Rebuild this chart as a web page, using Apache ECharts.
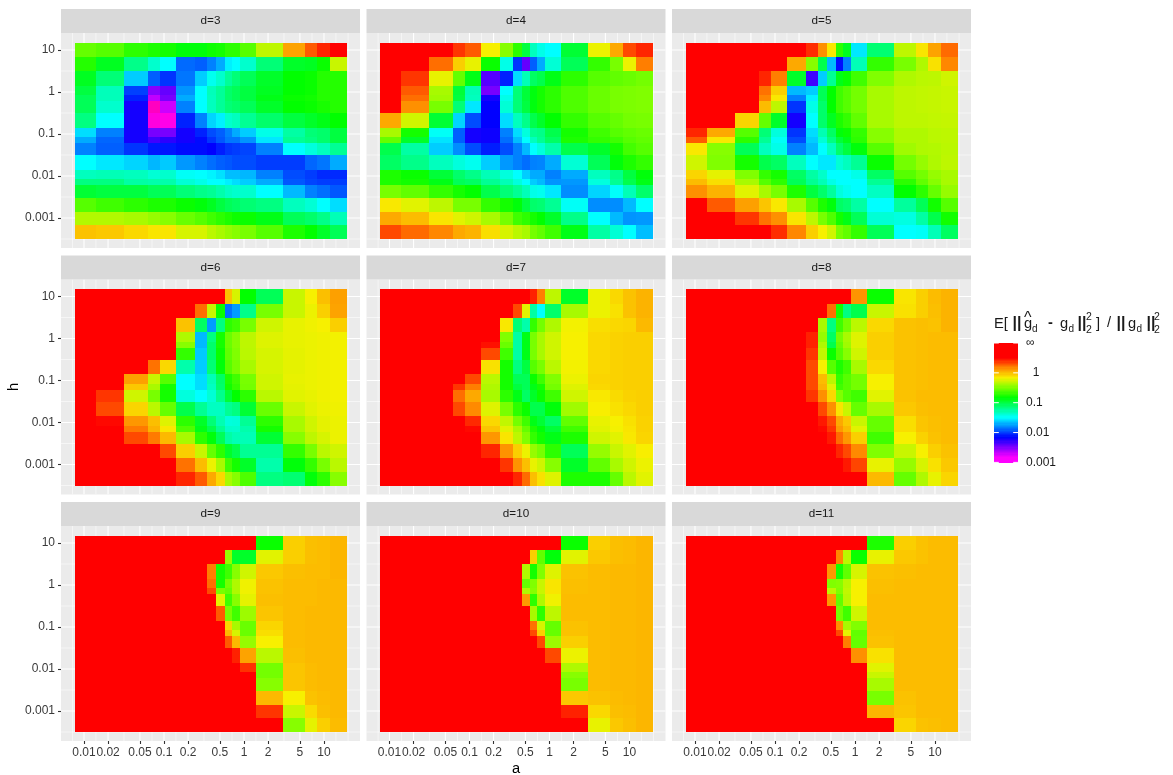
<!DOCTYPE html>
<html><head><meta charset="utf-8">
<style>html,body{margin:0;padding:0;background:#fff}#c{width:1173px;height:775px}</style>
<script src="https://cdn.jsdelivr.net/npm/echarts@6/dist/echarts.min.js"></script>
</head><body><div id="c"></div>
<script>
// Values are log10(ratio) x 100; I marks the "infinity" class.
const I = 99;
const aValues = [0.01,0.02,0.05,0.08,0.1,0.2,0.3,0.4,0.5,0.63,0.8,1,2,5,7,10,15];
const aEdges = [0.00772,0.01413,0.0316,0.0631,0.0891,0.1413,0.244,0.345,0.447,0.579,0.708,0.891,1.413,3.07,5.79,8.18,11.9,19.4];
const hValues = [10,5,2,1,0.7,0.5,0.2,0.1,0.07,0.05,0.02,0.01,0.007,0.005,0.002,0.001,0.0005];
const hEdges = [14.7,6.81,3.16,1.39,0.848,0.61,0.316,0.139,0.0848,0.061,0.0316,0.0139,0.00848,0.0061,0.003,0.00139,0.00068,0.000316];
const xTicks = [0.01,0.02,0.05,0.1,0.2,0.5,1,2,5,10];
const xMinor = [0.0072,0.0141,0.0316,0.0708,0.141,0.316,0.708,1.41,3.16,7.08,14.1,20];
const yTicks = [10,1,0.1,0.01,0.001];
const yMinor = [3.16,0.316,0.0316,0.00316,0.000316];
const legendTicks = [10,1,0.1,0.01,0.001];

const d3 = [
[-57,-61,-72,-76,-78,-86,-86,-80,-78,-72,-72,-61,-33,8,28,41,50],
[-74,-92,-119,-137,-150,-189,-192,-183,-172,-154,-150,-137,-114,-94,-92,-81,-30],
[-92,-114,-163,-192,-203,-186,-163,-146,-137,-123,-114,-106,-94,-83,-81,-74,-74],
[-100,-132,-200,-252,-243,-178,-150,-132,-123,-111,-106,-100,-92,-83,-81,-74,-74],
[-106,-132,-208,-267,-248,-172,-150,-133,-123,-111,-106,-100,-89,-81,-79,-74,-74],
[-106,-137,-222,-300,-270,-183,-150,-133,-123,-114,-111,-106,-94,-83,-81,-77,-74],
[-117,-150,-222,-292,-289,-208,-183,-161,-154,-137,-133,-122,-111,-100,-94,-89,-83],
[-159,-183,-222,-248,-248,-222,-208,-197,-192,-183,-172,-163,-144,-126,-114,-111,-100],
[-172,-190,-222,-233,-228,-222,-214,-203,-194,-186,-186,-178,-156,-122,-117,-111,-100],
[-183,-192,-203,-211,-211,-214,-214,-217,-209,-203,-201,-199,-183,-150,-141,-133,-122],
[-150,-156,-161,-169,-164,-177,-183,-188,-192,-194,-197,-197,-201,-201,-190,-186,-172],
[-133,-131,-133,-139,-137,-148,-150,-153,-158,-167,-167,-169,-183,-197,-201,-206,-206],
[-117,-117,-126,-128,-128,-139,-144,-150,-150,-154,-159,-163,-172,-194,-199,-201,-201],
[-97,-100,-100,-106,-106,-114,-119,-122,-128,-134,-137,-137,-150,-168,-183,-188,-194],
[-61,-67,-72,-76,-76,-81,-86,-92,-100,-106,-109,-113,-117,-133,-139,-150,-159],
[-36,-36,-39,-44,-48,-56,-61,-67,-72,-76,-80,-81,-89,-106,-111,-119,-131],
[-2,-4,-9,-13,-13,-26,-26,-34,-39,-44,-48,-52,-61,-76,-83,-94,-106]];
const d4 = [
[I,I,I,37,28,-17,-48,-72,-100,-133,-144,-150,-97,-20,6,32,41],
[I,I,23,-6,-21,-81,-144,-203,-243,-192,-172,-139,-106,-70,-52,-20,19],
[I,37,-21,-57,-89,-239,-208,-159,-131,-109,-103,-89,-72,-61,-58,-56,-53],
[I,28,-39,-98,-131,-248,-150,-114,-98,-87,-78,-72,-63,-56,-52,-51,-50],
[I,23,-41,-100,-133,-222,-144,-114,-98,-87,-78,-72,-63,-56,-52,-51,-50],
[I,14,-52,-114,-156,-217,-139,-114,-100,-87,-78,-72,-63,-56,-52,-51,-50],
[6,-28,-97,-161,-197,-217,-159,-133,-119,-103,-94,-83,-70,-61,-57,-53,-52],
[-39,-78,-148,-192,-222,-220,-183,-159,-141,-122,-119,-103,-78,-67,-61,-58,-56],
[-57,-94,-157,-192,-222,-220,-188,-167,-150,-133,-122,-109,-76,-70,-67,-61,-58],
[-103,-126,-163,-180,-197,-209,-197,-183,-168,-150,-141,-128,-103,-94,-78,-66,-61],
[-109,-119,-133,-141,-146,-163,-177,-183,-188,-183,-182,-172,-139,-106,-86,-76,-70],
[-76,-81,-98,-111,-119,-131,-141,-150,-163,-172,-172,-183,-172,-133,-119,-100,-86],
[-76,-79,-89,-106,-109,-122,-131,-141,-150,-163,-168,-178,-177,-141,-122,-103,-89],
[-52,-58,-70,-78,-83,-103,-114,-122,-131,-144,-146,-156,-180,-161,-149,-131,-111],
[-14,-23,-33,-52,-52,-70,-78,-86,-100,-111,-113,-122,-148,-180,-180,-168,-150],
[6,0,-13,-23,-28,-39,-53,-67,-72,-78,-83,-94,-119,-150,-168,-178,-177],
[32,24,17,6,3,-11,-26,-34,-39,-53,-58,-67,-89,-126,-139,-150,-167]];
const d5 = [
[I,I,I,I,I,I,39,14,-14,-72,-92,-156,-113,-33,-13,8,24],
[I,I,I,I,I,6,-48,-103,-168,-214,-183,-131,-70,-52,-37,-12,17],
[I,I,I,41,19,-94,-233,-163,-122,-89,-81,-67,-50,-37,-34,-33,-28],
[I,I,I,22,-6,-168,-163,-106,-83,-67,-61,-53,-39,-33,-32,-31,-30],
[I,I,I,17,-14,-183,-154,-106,-83,-67,-61,-53,-39,-33,-32,-31,-30],
[I,I,I,0,-33,-203,-144,-111,-83,-67,-61,-53,-39,-33,-32,-31,-30],
[I,I,-8,-57,-94,-222,-150,-111,-92,-76,-70,-58,-39,-33,-33,-32,-31],
[41,6,-61,-114,-141,-203,-159,-130,-109,-86,-81,-70,-48,-37,-37,-34,-33],
[28,-14,-72,-122,-148,-197,-163,-139,-117,-98,-89,-72,-48,-37,-37,-34,-33],
[-14,-48,-106,-133,-144,-183,-168,-150,-133,-111,-100,-86,-61,-41,-37,-36,-34],
[-28,-50,-78,-103,-109,-133,-150,-156,-156,-139,-133,-122,-81,-53,-44,-37,-33],
[-8,-22,-50,-70,-78,-109,-126,-136,-150,-150,-150,-144,-109,-61,-53,-44,-39],
[0,-11,-39,-61,-72,-106,-122,-131,-144,-150,-150,-150,-122,-72,-58,-48,-39],
[14,3,-23,-39,-52,-76,-100,-111,-124,-141,-146,-150,-134,-83,-72,-57,-44],
[I,28,9,-3,-14,-39,-61,-76,-86,-109,-113,-126,-150,-124,-106,-79,-61],
[I,I,37,22,14,-13,-33,-52,-63,-79,-89,-106,-139,-142,-126,-103,-79],
[I,I,I,I,39,17,-6,-17,-28,-52,-58,-70,-106,-150,-148,-131,-108]];
const d6 = [
[I,I,I,I,I,I,I,I,I,-2,-26,-83,-106,-30,-17,-1,9],
[I,I,I,I,I,I,23,-30,-81,-187,-176,-119,-52,-30,-20,-6,8],
[I,I,I,I,I,-2,-109,-176,-117,-72,-67,-52,-28,-21,-19,-17,-6],
[I,I,I,I,I,-37,-168,-117,-78,-56,-48,-33,-24,-21,-20,-19,-18],
[I,I,I,I,I,-48,-168,-111,-78,-56,-48,-33,-24,-21,-20,-19,-18],
[I,I,I,I,I,-70,-164,-111,-81,-58,-50,-34,-26,-22,-20,-19,-18],
[I,I,I,22,-9,-128,-163,-114,-86,-61,-52,-39,-26,-22,-20,-19,-18],
[I,I,9,-30,-61,-150,-159,-131,-109,-76,-67,-52,-28,-21,-20,-19,-18],
[I,I,-4,-39,-78,-150,-159,-134,-111,-79,-70,-53,-28,-22,-20,-19,-18],
[I,37,-28,-52,-78,-141,-150,-139,-120,-98,-83,-72,-34,-23,-21,-19,-18],
[I,32,-8,-34,-57,-103,-122,-134,-134,-122,-117,-97,-56,-30,-23,-20,-19],
[I,48,12,-1,-24,-72,-94,-114,-130,-141,-140,-122,-72,-39,-28,-22,-20],
[I,I,20,3,-14,-63,-89,-103,-122,-136,-137,-128,-78,-39,-28,-22,-20],
[I,I,32,20,1,-39,-72,-86,-106,-126,-131,-131,-97,-48,-33,-26,-20],
[I,I,I,I,32,-6,-30,-57,-72,-94,-103,-122,-122,-70,-52,-34,-28],
[I,I,I,I,I,22,0,-20,-39,-67,-78,-94,-128,-86,-70,-52,-34],
[I,I,I,I,I,41,28,6,-9,-39,-48,-63,-117,-113,-86,-72,-48]];
const d7 = [
[I,I,I,I,I,I,I,I,I,42,19,-33,-94,-20,-9,-2,3],
[I,I,I,I,I,I,I,32,-23,-126,-150,-111,-39,-20,-12,-2,3],
[I,I,I,I,I,I,-14,-114,-128,-70,-53,-37,-18,-11,-9,-8,1],
[I,I,I,I,I,I,-50,-126,-89,-52,-39,-28,-17,-9,-7,-6,-6],
[I,I,I,I,I,46,-56,-126,-89,-52,-39,-28,-17,-9,-7,-6,-6],
[I,I,I,I,I,32,-67,-126,-89,-52,-39,-28,-17,-9,-7,-6,-6],
[I,I,I,I,I,-12,-78,-117,-100,-61,-52,-34,-18,-9,-7,-6,-6],
[I,I,I,I,32,-34,-78,-106,-106,-81,-67,-50,-20,-8,-7,-6,-6],
[I,I,I,37,19,-37,-78,-100,-106,-89,-78,-53,-24,-9,-7,-6,-6],
[I,I,I,23,6,-39,-72,-89,-109,-94,-81,-67,-28,-14,-10,-7,-6],
[I,I,I,32,16,-24,-52,-72,-81,-103,-103,-86,-41,-16,-12,-9,-6],
[I,I,I,I,40,-9,-32,-53,-67,-89,-97,-109,-58,-21,-17,-12,-7],
[I,I,I,I,48,-3,-23,-39,-57,-76,-86,-98,-67,-23,-18,-13,-7],
[I,I,I,I,I,12,-13,-33,-50,-70,-79,-89,-76,-28,-23,-14,-8],
[I,I,I,I,I,41,13,-6,-20,-44,-52,-72,-106,-44,-30,-23,-16],
[I,I,I,I,I,I,37,13,-1,-21,-28,-48,-94,-58,-39,-28,-20],
[I,I,I,I,I,I,I,41,24,-1,-12,-24,-76,-76,-57,-34,-23]];
const d8 = [
[I,I,I,I,I,I,I,I,I,I,I,13,-81,-13,-6,0,3],
[I,I,I,I,I,I,I,I,23,-78,-117,-103,-30,-12,-6,-1,3],
[I,I,I,I,I,I,I,-39,-117,-67,-53,-34,-9,-2,-1,-2,3],
[I,I,I,I,I,I,42,-44,-109,-53,-39,-24,-6,-2,-1,0,0],
[I,I,I,I,I,I,42,-37,-103,-57,-41,-24,-6,-2,-1,0,0],
[I,I,I,I,I,I,37,-32,-81,-61,-48,-28,-6,-2,-1,0,0],
[I,I,I,I,I,I,32,-17,-61,-76,-67,-39,-9,-2,-1,0,0],
[I,I,I,I,I,I,32,0,-33,-70,-61,-53,-17,-2,-1,0,0],
[I,I,I,I,I,I,32,3,-23,-67,-61,-53,-17,-2,-1,0,0],
[I,I,I,I,I,I,37,14,-9,-50,-61,-67,-23,-2,0,0,0],
[I,I,I,I,I,I,I,32,14,-13,-30,-57,-39,-4,-1,0,0],
[I,I,I,I,I,I,I,44,32,6,-4,-30,-57,-11,-3,-1,0],
[I,I,I,I,I,I,I,48,37,11,1,-23,-57,-11,-3,-1,0],
[I,I,I,I,I,I,I,I,44,24,12,-6,-67,-17,-7,-2,0],
[I,I,I,I,I,I,I,I,I,41,32,16,-50,-30,-17,-6,-2],
[I,I,I,I,I,I,I,I,I,I,44,33,-21,-44,-26,-12,-4],
[I,I,I,I,I,I,I,I,I,I,I,I,1,-57,-37,-21,-8]];
const d9 = [
[I,I,I,I,I,I,I,I,I,I,I,I,-81,-6,-1,0,2],
[I,I,I,I,I,I,I,I,I,-44,-94,-94,-23,-6,-1,0,2],
[I,I,I,I,I,I,I,19,-78,-67,-48,-28,-4,-1,0,0,2],
[I,I,I,I,I,I,I,23,-78,-53,-37,-19,-2,0,0,1,1],
[I,I,I,I,I,I,I,32,-52,-57,-37,-19,-2,0,0,1,1],
[I,I,I,I,I,I,I,I,-22,-67,-48,-22,-1,0,0,1,1],
[I,I,I,I,I,I,I,I,28,-52,-67,-42,-3,0,1,1,1],
[I,I,I,I,I,I,I,I,I,-8,-39,-56,-8,0,1,1,1],
[I,I,I,I,I,I,I,I,I,1,-26,-56,-11,0,1,1,1],
[I,I,I,I,I,I,I,I,I,28,1,-44,-17,0,1,1,1],
[I,I,I,I,I,I,I,I,I,I,42,8,-34,-1,1,1,1],
[I,I,I,I,I,I,I,I,I,I,I,38,-53,-3,0,1,1],
[I,I,I,I,I,I,I,I,I,I,I,I,-53,-3,0,1,1],
[I,I,I,I,I,I,I,I,I,I,I,I,-48,-3,0,1,1],
[I,I,I,I,I,I,I,I,I,I,I,I,1,-17,-2,0,1],
[I,I,I,I,I,I,I,I,I,I,I,I,37,-30,-10,-1,1],
[I,I,I,I,I,I,I,I,I,I,I,I,I,-48,-22,-6,0]];
const d10 = [
[I,I,I,I,I,I,I,I,I,I,I,I,-81,-6,-1,0,2],
[I,I,I,I,I,I,I,I,I,-6,-58,-86,-23,-4,-1,0,2],
[I,I,I,I,I,I,I,I,-37,-78,-50,-24,-2,0,1,1,2],
[I,I,I,I,I,I,I,I,-57,-50,-30,-13,-1,0,1,1,2],
[I,I,I,I,I,I,I,I,-37,-48,-30,-13,-1,0,1,1,2],
[I,I,I,I,I,I,I,I,11,-72,-37,-19,0,0,1,1,2],
[I,I,I,I,I,I,I,I,I,-39,-72,-33,0,0,1,1,2],
[I,I,I,I,I,I,I,I,I,22,-26,-57,-2,0,1,1,2],
[I,I,I,I,I,I,I,I,I,32,-6,-57,-2,0,1,1,2],
[I,I,I,I,I,I,I,I,I,I,32,-42,-6,0,1,1,2],
[I,I,I,I,I,I,I,I,I,I,I,32,-20,0,1,1,2],
[I,I,I,I,I,I,I,I,I,I,I,I,-37,0,1,1,2],
[I,I,I,I,I,I,I,I,I,I,I,I,-48,0,1,1,2],
[I,I,I,I,I,I,I,I,I,I,I,I,-52,0,1,1,2],
[I,I,I,I,I,I,I,I,I,I,I,I,-4,-2,0,1,2],
[I,I,I,I,I,I,I,I,I,I,I,I,42,-9,-1,0,2],
[I,I,I,I,I,I,I,I,I,I,I,I,I,-21,-4,-1,2]];
const d11 = [
[I,I,I,I,I,I,I,I,I,I,I,I,-76,-6,-2,0,0],
[I,I,I,I,I,I,I,I,I,17,-34,-81,-21,-4,-2,0,0],
[I,I,I,I,I,I,I,I,12,-78,-58,-26,-2,-1,0,0,0],
[I,I,I,I,I,I,I,I,-50,-48,-34,-17,-1,0,0,0,0],
[I,I,I,I,I,I,I,I,-33,-50,-32,-17,-1,0,0,0,0],
[I,I,I,I,I,I,I,I,12,-58,-34,-17,0,0,0,0,0],
[I,I,I,I,I,I,I,I,I,-53,-67,-28,0,0,0,0,0],
[I,I,I,I,I,I,I,I,I,14,-39,-50,0,0,0,0,0],
[I,I,I,I,I,I,I,I,I,32,-22,-58,-1,0,0,0,0],
[I,I,I,I,I,I,I,I,I,I,19,-57,-2,0,0,0,0],
[I,I,I,I,I,I,I,I,I,I,I,14,-12,0,0,0,0],
[I,I,I,I,I,I,I,I,I,I,I,I,-23,0,0,0,0],
[I,I,I,I,I,I,I,I,I,I,I,I,-30,0,0,0,0],
[I,I,I,I,I,I,I,I,I,I,I,I,-39,0,0,0,0],
[I,I,I,I,I,I,I,I,I,I,I,I,-52,-2,0,0,0],
[I,I,I,I,I,I,I,I,I,I,I,I,2,-3,0,0,0],
[I,I,I,I,I,I,I,I,I,I,I,I,I,-8,-2,-1,0]];
const panels = [['d=3',d3],['d=4',d4],['d=5',d5],['d=6',d6],['d=7',d7],['d=8',d8],['d=9',d9],['d=10',d10],['d=11',d11]];

const FONT = 'Liberation Sans';
const lefts = [61,366.5,672], tops = [33,279.5,526], PW = 299, PH = 215;
const xMin = 0.00516, xMax = 28.2, yMin = 0.000193, yMax = 25.4;
const grids=[], xAxes=[], yAxes=[], series=[], graphics=[], tileIdx=[];
const fmt = v => String(Number(Number(v).toPrecision(3)));

function gridRender(params, api){
  const isX = api.value(0)===0, v = api.value(1), w = api.value(2);
  const a = isX ? api.coord([v,yMin]) : api.coord([xMin,v]);
  const b = isX ? api.coord([v,yMax]) : api.coord([xMax,v]);
  return {type:'line',silent:true,shape:{x1:a[0],y1:a[1],x2:b[0],y2:b[1]},style:{stroke:'#fff',lineWidth:w}};
}
function tileRender(params, api){
  const p = api.coord([api.value(0),api.value(3)]), q = api.coord([api.value(1),api.value(2)]);
  const x=Math.round(p[0]), y=Math.round(p[1]);
  return {type:'rect',silent:true,shape:{x,y,width:Math.round(q[0])-x,height:Math.round(q[1])-y},style:{fill:api.visual('color')}};
}
panels.forEach(([name,rows],i)=>{
  const col=i%3, row=Math.floor(i/3), L=lefts[col], T=tops[row];
  grids.push({left:L,top:T,width:PW,height:PH,show:true,backgroundColor:'#EBEBEB',borderWidth:0,containLabel:false});
  xAxes.push({gridIndex:i,type:'log',logBase:10,min:xMin,max:xMax,
    axisLine:{show:false},splitLine:{show:false},minorTick:{show:false},
    axisTick:{show:row===2,length:3,lineStyle:{color:'#333',width:1.1},customValues:xTicks},
    axisLabel:{show:row===2,customValues:xTicks,margin:6,fontSize:12,fontFamily:FONT,color:'#3A3A3A',hideOverlap:false,formatter:fmt}});
  yAxes.push({gridIndex:i,type:'log',logBase:10,min:yMin,max:yMax,
    axisLine:{show:false},splitLine:{show:false},minorTick:{show:false},
    axisTick:{show:col===0,length:3,lineStyle:{color:'#333',width:1.1},customValues:yTicks},
    axisLabel:{show:col===0,customValues:yTicks,margin:6,fontSize:12,fontFamily:FONT,color:'#3A3A3A',hideOverlap:false,formatter:fmt}});
  const gl=[];
  xMinor.forEach(v=>gl.push([0,v,0.55])); yMinor.forEach(v=>gl.push([1,v,0.55]));
  xTicks.forEach(v=>gl.push([0,v,1.1])); yTicks.forEach(v=>gl.push([1,v,1.1]));
  series.push({type:'custom',coordinateSystem:'cartesian2d',xAxisIndex:i,yAxisIndex:i,silent:true,z:1,renderItem:gridRender,data:gl,encode:{x:1},clip:true});
  const cells=[];
  rows.forEach((r,ri)=>r.forEach((v,ci)=>cells.push([aEdges[ci],aEdges[ci+1],hEdges[ri+1],hEdges[ri],Math.min(v,50)])));
  tileIdx.push(series.length);
  series.push({type:'custom',coordinateSystem:'cartesian2d',xAxisIndex:i,yAxisIndex:i,silent:true,z:2,renderItem:tileRender,data:cells,encode:{x:[0,1],y:[2,3]},clip:false});
  graphics.push({type:'rect',silent:true,shape:{x:L,y:T-24,width:PW,height:24},style:{fill:'#D9D9D9'}});
  graphics.push({type:'text',silent:true,style:{x:L+PW/2,y:T-12,text:name,align:'center',verticalAlign:'middle',font:'11.7px "'+FONT+'"',fill:'#1A1A1A'}});
});

// colour bar
const legendLevels=[]; for(let l=-300;l<100;l+=4) legendLevels.push(l);
const g=panels.length;
grids.push({left:994,top:343,width:24,height:119.4,show:false,containLabel:false});
xAxes.push({gridIndex:g,type:'value',min:0,max:1,show:false});
yAxes.push({gridIndex:g,type:'log',logBase:10,min:0.001,max:10,position:'right',
  axisLine:{show:false},axisTick:{show:false},splitLine:{show:false},minorTick:{show:false},
  axisLabel:{margin:8,fontSize:12,fontFamily:FONT,color:'#1A1A1A',hideOverlap:false,showMinLabel:true,showMaxLabel:true,
    formatter:v=>{const s=fmt(v);return s==='10'?'∞':(s==='1'?'  1':s);}}});
tileIdx.push(series.length);
series.push({type:'custom',coordinateSystem:'cartesian2d',xAxisIndex:g,yAxisIndex:g,silent:true,z:2,clip:false,
  data:legendLevels.map(l=>[Math.pow(10,l/100),Math.pow(10,(l+4)/100),0,0,Math.max(Math.min(l,50),-283)]),
  encode:{y:[0,1]},
  renderItem:(p,api)=>{const a=api.coord([0,api.value(1)]),b=api.coord([1,api.value(0)]);
    const y=Math.floor(a[1]);return {type:'rect',silent:true,shape:{x:a[0],y,width:b[0]-a[0],height:Math.ceil(b[1])-y},style:{fill:api.visual('color')}};}});
const tickSegs=[]; legendTicks.forEach(v=>{tickSegs.push([0,0.2,v]);tickSegs.push([0.8,1,v]);});
series.push({type:'custom',coordinateSystem:'cartesian2d',xAxisIndex:g,yAxisIndex:g,silent:true,z:3,clip:false,data:tickSegs,encode:{y:2},
  renderItem:(p,api)=>{const a=api.coord([api.value(0),api.value(2)]),b=api.coord([api.value(1),api.value(2)]);
    return {type:'line',silent:true,shape:{x1:a[0],y1:a[1],x2:b[0],y2:b[1]},style:{stroke:'#fff',lineWidth:1}};}});

// axis titles
const T14='14.67px "'+FONT+'"';
graphics.push({type:'text',silent:true,style:{x:516,y:769,text:'a',align:'center',verticalAlign:'middle',font:T14,fill:'#000'}});
graphics.push({type:'text',silent:true,rotation:Math.PI/2,x:14,y:387,style:{x:0,y:0,text:'h',align:'center',verticalAlign:'middle',font:T14,fill:'#000'}});
// legend title
const pieces=[['E[',994,324,14.67],['||',1012.5,324,16,1],['g',1024,324,14.67],['^',1024,319,16],['d',1032,329,10],
 ['-',1048,323,14.67,1],['g',1060,324,14.67],['d',1068.5,329,10],['||',1077.5,324,16,1],['2',1086,317.5,10.5],['2',1086,330,10.5],
 [']',1096,324,14.67],['/',1107,323,14.67],['||',1116.5,324,16,1],['g',1128,324,14.67],['d',1136.5,329,10],['||',1146.5,324,16,1],['2',1154,317.5,10.5],['2',1154,330,10.5]];
pieces.forEach(([t,x,y,s,b])=>graphics.push({type:'text',silent:true,style:{x,y,text:t,align:'left',verticalAlign:'middle',font:(b?'bold ':'')+s+'px "'+FONT+'"',fill:'#1A1A1A'}}));

const colourStops=['#FF0000','#FF0080','#FF00FF','#8000FF','#0000FF','#0080FF','#00FFFF','#00FF80','#00FF00','#80FF00','#F8F000','#FF8800','#FF0000'];
const chart=echarts.init(document.getElementById('c'),null,{renderer:'canvas'});
chart.setOption({animation:false,backgroundColor:'#fff',tooltip:{show:false},
  grid:grids,xAxis:xAxes,yAxis:yAxes,series,graphic:graphics,
  visualMap:{show:false,type:'continuous',seriesIndex:tileIdx,dimension:4,min:-350,max:50,inRange:{color:colourStops}}});
</script></body></html>
